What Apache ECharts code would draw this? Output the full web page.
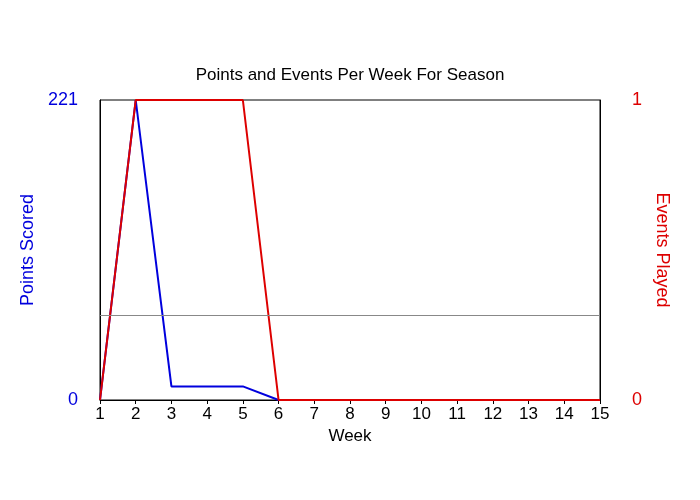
<!DOCTYPE html>
<html><head><meta charset="utf-8">
<script src="https://cdn.jsdelivr.net/npm/echarts@6/dist/echarts.min.js"></script>
<style>body{margin:0}#c{width:700px;height:500px}</style></head>
<body><div id="c"></div>
<script>
const weeks = ['1','2','3','4','5','6','7','8','9','10','11','12','13','14','15'];
const points = [0,221,10,10,10,0,0,0,0,0,0,0,0,0,0];
const events = [0,1,1,1,1,0,0,0,0,0,0,0,0,0,0];
const refLine = 62.6;
const F = 'Liberation Sans, Arial, sans-serif';
const chart = echarts.init(document.getElementById('c'));
chart.setOption({
  animation:false,
  backgroundColor:'#fff',
  title:{text:'Points and Events Per Week For Season',left:'center',top:62,textStyle:{fontFamily:F,fontSize:17,fontWeight:'normal',color:'#000'}},
  grid:{left:100,right:100,top:100,bottom:100,show:true,borderColor:'#000',borderWidth:1},
  xAxis:{type:'category',data:weeks,boundaryGap:false,name:'Week',nameLocation:'middle',nameGap:23,
    nameTextStyle:{fontFamily:F,fontSize:17,color:'#000'},
    axisLine:{lineStyle:{color:'#000'}},axisTick:{show:true,alignWithLabel:true,length:4,lineStyle:{color:'#000'}},
    axisLabel:{fontFamily:F,fontSize:17,color:'#000',margin:6},splitLine:{show:false}},
  yAxis:[
    {type:'value',min:0,max:221,interval:221,name:'Points Scored',nameLocation:'middle',nameGap:-5,
     nameTextStyle:{fontFamily:F,fontSize:18,color:'#0000dd'},
     axisLine:{show:true,lineStyle:{color:'#000'}},axisTick:{show:false},
     axisLabel:{fontFamily:F,fontSize:18,color:'#0000dd',margin:22},splitLine:{show:false}},
    {type:'value',min:0,max:1,interval:1,name:'Events Played',nameLocation:'middle',nameGap:0,nameRotate:-90,
     nameTextStyle:{fontFamily:F,fontSize:18,color:'#dd0000'},
     axisLine:{show:true,lineStyle:{color:'#000'}},axisTick:{show:false},
     axisLabel:{fontFamily:F,fontSize:18,color:'#dd0000',margin:32},splitLine:{show:false}}
  ],
  series:[
    {type:'line',data:points,yAxisIndex:0,symbol:'none',lineStyle:{color:'#0000dd',width:2},
     markLine:{silent:true,symbol:'none',label:{show:false},lineStyle:{color:'#888',width:1,type:'solid'},data:[{yAxis:refLine}]}},
    {type:'line',data:events,yAxisIndex:1,symbol:'none',lineStyle:{color:'#dd0000',width:2}}
  ]
});
</script></body></html>
